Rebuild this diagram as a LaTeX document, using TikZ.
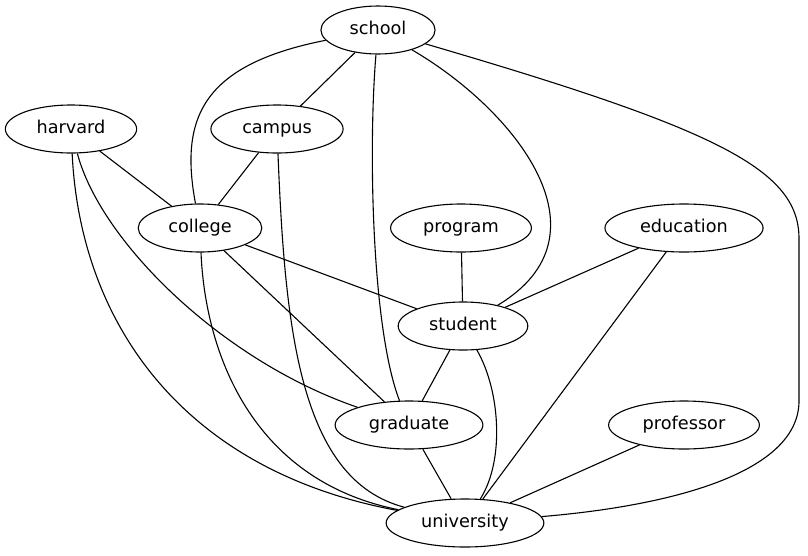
\documentclass[tikz,border=0pt]{standalone}
\usepackage{fontspec}
\setmainfont{DejaVu Sans}
\usetikzlibrary{shapes.geometric}

\begin{document}
\begin{tikzpicture}[
    x=1pt, y=-1pt,
    every node/.style={font=\fontsize{17.7}{21}\selectfont},
    word/.style={ellipse, draw, line width=1.1pt, minimum height=48pt,
                 inner xsep=12pt, inner ysep=0pt, text height=13pt, text depth=4pt},
    link/.style={line width=1.1pt},
]
\useasboundingbox (0,0) rectangle (808,555);

% Nodes
\node[word] (school)     at (378,30)  {school};
\node[word] (harvard)    at (71,129)  {harvard};
\node[word] (campus)     at (277,129) {campus};
\node[word] (college)    at (200,228) {college};
\node[word] (program)    at (461,228) {program};
\node[word] (education)  at (684,228) {education};
\node[word] (student)    at (463,326) {student};
\node[word] (graduate)   at (409,425) {graduate};
\node[word] (professor)  at (684,425) {professor};
\node[word] (university) at (465,523) {university};

% Straight edges
\draw[link] (school) -- (campus);
\draw[link] (harvard) -- (college);
\draw[link] (campus) -- (college);
\draw[link] (college) -- (student);
\draw[link] (college) -- (graduate);
\draw[link] (program) -- (student);
\draw[link] (education) -- (student);
\draw[link] (education) -- (university);
\draw[link] (student) -- (graduate);
\draw[link] (graduate) -- (university);
\draw[link] (professor) -- (university);

% Curved edges
\draw[link] (school) .. controls (200,65) and (180,120) .. (college);
\draw[link] (school) .. controls (368,150) and (372,330) .. (graduate);
\draw[link] (school) .. controls (515,110) and (615,235) .. (student);
\draw[link] (school) .. controls (720,130) and (800,170) .. (799,240)
    -- (799,400) .. controls (800,470) and (680,505) .. (university);
\draw[link] (harvard) .. controls (100,240) and (220,360) .. (graduate);
\draw[link] (harvard) .. controls (80,320) and (180,470) .. (university);
\draw[link] (college) .. controls (205,350) and (250,480) .. (university);
\draw[link] (campus) .. controls (285,330) and (300,480) .. (university);
\draw[link] (student) .. controls (500,390) and (505,460) .. (university);

\end{tikzpicture}
\end{document}
